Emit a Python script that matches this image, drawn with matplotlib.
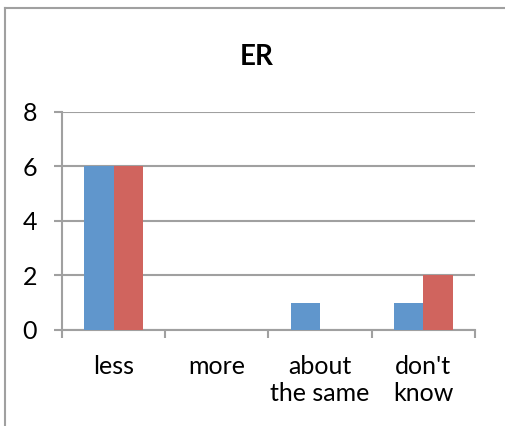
import matplotlib
matplotlib.use('Agg')
import matplotlib.pyplot as plt
from matplotlib.lines import Line2D
import numpy as np

plt.rcParams['font.family'] = ['Lato', 'DejaVu Sans']

categories = ['less', 'more', 'about\nthe same', "don't\nknow"]
series_blue = [6, 0, 1, 1]
series_red = [6, 0, 0, 2]
y_ticks = [0, 2, 4, 6, 8]

grey = '#A0A0A0'

fig = plt.figure(figsize=(5.06, 4.26), dpi=100)
ax = fig.add_axes([0.1225, 0.2254, 0.8162, 0.5117])

x = np.arange(len(categories))
w = 0.285
ax.bar(x - w / 2, series_blue, w, color='#6096CC', zorder=3)
ax.bar(x + w / 2, series_red, w, color='#D0645E', zorder=3)

ax.set_xlim(-0.5, len(categories) - 0.5)
ax.set_ylim(0, 8)
ax.set_yticks(y_ticks)
ax.yaxis.grid(True, color=grey, linewidth=1.5, zorder=0)
ax.set_axisbelow(True)

ax.set_xticks(x)
ax.set_xticklabels(categories, fontsize=18, linespacing=1.22)
ax.set_xticks(np.arange(-0.5, len(categories)), minor=True)
ax.tick_params(axis='x', which='major', length=0, pad=18)
ax.tick_params(axis='x', which='minor', length=6, width=1.5, color=grey, direction='out')
ax.tick_params(axis='y', length=6, width=1.5, color=grey, direction='out', labelsize=18, pad=12)

for s in ['top', 'right']:
    ax.spines[s].set_visible(False)
for s in ['left', 'bottom']:
    ax.spines[s].set_color(grey)
    ax.spines[s].set_linewidth(1.5)

fig.text(0.508, 0.866, 'ER', ha='center', va='center', fontsize=20, fontweight='bold')

# chart frame (only the top and left edges fall inside the image)
fig.add_artist(Line2D([0.0099, 1.0], [0.981, 0.981], color=grey, linewidth=1.5))
fig.add_artist(Line2D([0.0099, 0.0099], [0.0, 0.981], color=grey, linewidth=1.5))

fig.savefig('out.png', dpi=100)
